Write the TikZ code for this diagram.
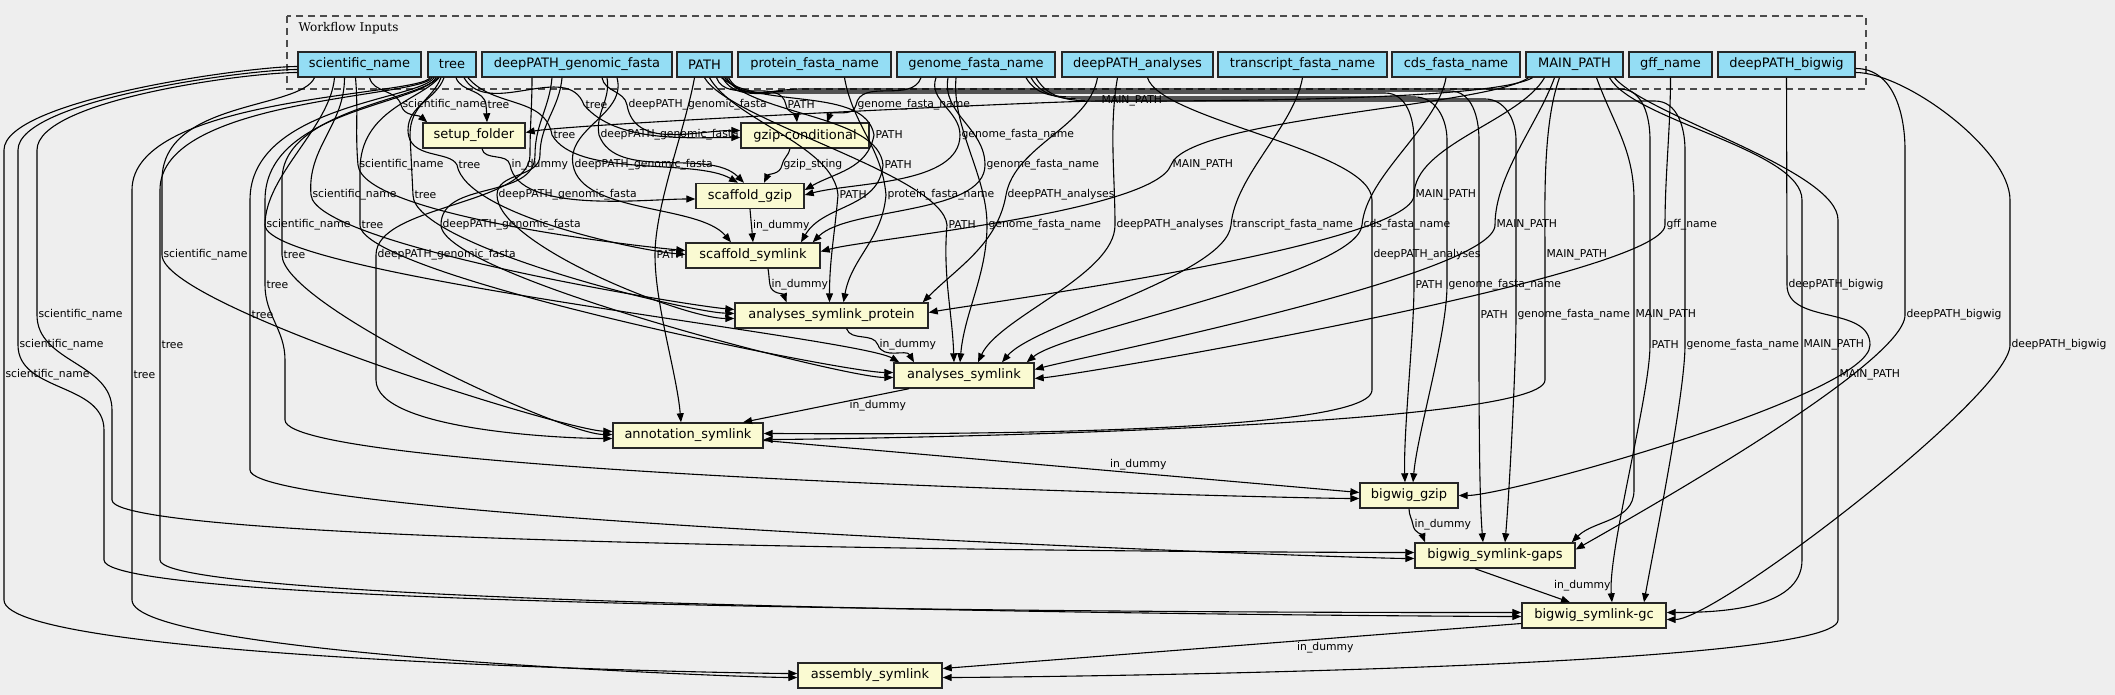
\documentclass[tikz,border=0pt]{standalone}
\usepackage{fontspec}
\setmainfont{DejaVu Sans}
\newfontfamily\wfclusterfont{DejaVu Serif}
\usepackage{xcolor}
\usepackage{tikz}
\usetikzlibrary{arrows.meta,positioning}

\definecolor{wfback}{HTML}{EEEEEE}
\definecolor{wfinput}{HTML}{94DDF4}
\definecolor{wfstep}{HTML}{FAFAD2}
\newcommand{\wfnodefont}{\fontsize{13}{15}\selectfont}
\newcommand{\wflabelfont}{\fontsize{10.8}{12}\selectfont}

\begin{document}
\begin{tikzpicture}[
  x=1pt, y=1pt,
  inbox/.style={draw=black!85, line width=1.4pt, fill=wfinput, minimum height=25pt,
                inner sep=0pt, font=\wfnodefont},
  stepbox/.style={draw=black!85, line width=1.4pt, fill=wfstep, minimum height=25pt,
                  inner sep=0pt, font=\wfnodefont},
  edge/.style={-{Triangle[length=9pt,width=7pt]}, line width=1.1pt, max distance=50pt},
  lbl/.style={font=\wflabelfont, anchor=west, inner sep=1pt},
  cluster/.style={draw=black!70, line width=1.3pt, dash pattern=on 7pt off 5pt}
]
  \useasboundingbox (0,0) rectangle (2115,-695);
  \fill[wfback] (0,0) rectangle (2115,-695);

  % workflow inputs
  \draw[cluster] (287,-16) rectangle (1866,-89);
  \node[font=\wfclusterfont\fontsize{12}{14}\selectfont, anchor=west] (inlabel) at (295,-28) {Workflow Inputs};
  \node[inbox, minimum width=123pt] (sci) at (359.5,-64.5) {scientific\_name};
  \node[inbox, minimum width=48pt] (tree) at (452,-64.5) {tree};
  \node[inbox, minimum width=190pt] (dgf) at (577,-64.5) {deepPATH\_genomic\_fasta};
  \node[inbox, minimum width=55pt] (pth) at (704.5,-64.5) {PATH};
  \node[inbox, minimum width=153pt] (pfn) at (814.5,-64.5) {protein\_fasta\_name};
  \node[inbox, minimum width=158pt] (gfn) at (976,-64.5) {genome\_fasta\_name};
  \node[inbox, minimum width=151pt] (da) at (1137.5,-64.5) {deepPATH\_analyses};
  \node[inbox, minimum width=169pt] (tfn) at (1302.5,-64.5) {transcript\_fasta\_name};
  \node[inbox, minimum width=128pt] (cfn) at (1456,-64.5) {cds\_fasta\_name};
  \node[inbox, minimum width=97pt] (mp) at (1574.5,-64.5) {MAIN\_PATH};
  \node[inbox, minimum width=83pt] (gff) at (1670.5,-64.5) {gff\_name};
  \node[inbox, minimum width=137pt] (dbw) at (1786.5,-64.5) {deepPATH\_bigwig};

  % steps
  \node[stepbox, minimum width=102pt] (setup) at (474,-135.5) {setup\_folder};
  \node[stepbox, minimum width=128pt] (gzc) at (805,-135.5) {gzip-conditional};
  \node[stepbox, minimum width=108pt] (sgz) at (750,-196) {scaffold\_gzip};
  \node[stepbox, minimum width=134pt] (ssl) at (753,-255.5) {scaffold\_symlink};
  \node[stepbox, minimum width=193pt] (asp) at (831.5,-315.5) {analyses\_symlink\_protein};
  \node[stepbox, minimum width=140pt] (asl) at (964,-375.5) {analyses\_symlink};
  \node[stepbox, minimum width=150pt] (ann) at (688,-435.5) {annotation\_symlink};
  \node[stepbox, minimum width=98pt] (bgz) at (1409,-495.5) {bigwig\_gzip};
  \node[stepbox, minimum width=160pt] (gaps) at (1495,-555.5) {bigwig\_symlink-gaps};
  \node[stepbox, minimum width=144pt] (gc) at (1594,-615.5) {bigwig\_symlink-gc};
  \node[stepbox, minimum width=144pt] (asm) at (870,-675.5) {assembly\_symlink};

  % into setup_folder and gzip-conditional
  \draw[edge] ([xshift=10]sci.south) to[out=-75,in=105] (401,-105) node[lbl]{scientific\_name} to[out=-75,in=140] ([xshift=5]setup.north west);
  \draw[edge] ([xshift=4]tree.south) to[out=-70,in=95] (486,-105) node[lbl]{tree} to[out=-85,in=92] ([xshift=13]setup.north);
  \draw[edge] ([xshift=12]tree.south) to[out=-60,in=110] (584,-105) node[lbl]{tree} to[out=-50,in=180] ([yshift=-2]gzc.west);
  \draw[edge] ([xshift=25]dgf.south) to[out=-80,in=100] (627,-105) node[lbl]{deepPATH\_genomic\_fasta} to[out=-80,in=180] ([yshift=5]gzc.west);
  \draw[edge] ([xshift=12]pth.south) to[out=-70,in=100] (786,-105) node[lbl]{PATH} to[out=-80,in=95] ([xshift=-8]gzc.north);
  \draw[edge] ([xshift=-55]gfn.south) to[out=-110,in=80] (856,-105) node[lbl]{genome\_fasta\_name} to[out=-100,in=70] ([xshift=22]gzc.north);
  \draw[edge] ([xshift=-42]mp.south) to[out=-150,in=0] (1100,-101) node[lbl]{MAIN\_PATH} to[out=180,in=10] ([yshift=3]setup.east);

  % into scaffold_gzip
  \draw[edge] ([xshift=16]tree.south) to[out=-50,in=100] (552,-135) node[lbl]{tree} to[out=-60,in=150] ([xshift=-12]sgz.north);
  \draw[edge] ([xshift=30]dgf.south) to[out=-80,in=100] (599,-135) node[lbl]{deepPATH\_genomic\_fasta} to[out=-70,in=135] ([xshift=-6]sgz.north);
  \draw[edge] ([xshift=17]pth.south) to[out=-40,in=100] (874,-135) node[lbl]{PATH} to[out=-100,in=30] ([yshift=6]sgz.east);
  \draw[edge] ([xshift=-40]gfn.south) to[out=-110,in=90] (960,-135) node[lbl]{genome\_fasta\_name} to[out=-90,in=15] ([yshift=1]sgz.east);
  \draw[edge] ([xshift=8]setup.south) to[out=-80,in=100] (510,-165) node[lbl]{in\_dummy} to[out=-80,in=180] ([yshift=-3]sgz.west);
  \draw[edge] ([xshift=-15]gzc.south) to[out=-100,in=80] (782,-165) node[lbl]{gzip\_string} to[out=-100,in=65] ([xshift=14]sgz.north);

  % into scaffold_symlink
  \draw[edge] ([xshift=-4]sci.south) to[out=-85,in=95] (358,-165) node[lbl]{scientific\_name} to[out=-85,in=175] ([yshift=5]ssl.west);
  \draw[edge] ([xshift=-8]tree.south) .. controls (436,-100) and (408,-105) .. (408,-130) .. controls (408,-160) and (450,-150) .. (457,-165) node[lbl]{tree} to[out=-80,in=175] ([yshift=1]ssl.west);
  \draw[edge] ([xshift=40]dgf.south) to[out=-75,in=100] (573,-165) node[lbl]{deepPATH\_genomic\_fasta} to[out=-80,in=130] ([xshift=-22]ssl.north);
  \draw[edge] ([xshift=20]pth.south) to[out=-50,in=95] (883,-165) node[lbl]{PATH} to[out=-95,in=60] ([xshift=48]ssl.north);
  \draw[edge] ([xshift=-28]gfn.south) to[out=-100,in=90] (985,-165) node[lbl]{genome\_fasta\_name} to[out=-90,in=45] ([xshift=-8]ssl.north east);
  \draw[edge] ([xshift=-46]mp.south) to[out=-145,in=70] (1171,-165) node[lbl]{MAIN\_PATH} to[out=-110,in=15] ([yshift=4]ssl.east);
  \draw[edge] (sgz.south) -- node[lbl]{in\_dummy} (ssl.north);

  % into analyses_symlink_protein
  \draw[edge] ([xshift=-15]sci.south) to[out=-90,in=95] (311,-195) node[lbl]{scientific\_name} to[out=-85,in=175] ([yshift=6]asp.west);
  \draw[edge] ([xshift=-11]tree.south) .. controls (432,-100) and (410,-105) .. (410,-135) -- (413,-195) node[lbl]{tree} to[out=-90,in=178] ([yshift=2]asp.west);
  \draw[edge] ([xshift=-15]dgf.south) to[out=-95,in=90] (540,-155) to[out=-90,in=90] (497,-195) node[lbl]{deepPATH\_genomic\_fasta} to[out=-90,in=180] ([yshift=-3]asp.west);
  \draw[edge] ([xshift=5]pth.south) to[out=-60,in=95] (838,-195) node[lbl]{PATH} to[out=-95,in=90] ([xshift=-2]asp.north);
  \draw[edge] ([xshift=30]pfn.south) to[out=-80,in=95] (886,-195) node[lbl]{protein\_fasta\_name} to[out=-95,in=80] ([xshift=12]asp.north);
  \draw[edge] ([xshift=-40]da.south) to[out=-100,in=80] (1006,-195) node[lbl]{deepPATH\_analyses} to[out=-100,in=45] ([xshift=-6]asp.north east);
  \draw[edge] ([xshift=-30]mp.south) to[out=-120,in=90] (1414,-195) node[lbl]{MAIN\_PATH} to[out=-90,in=10] ([yshift=3]asp.east);
  \draw[edge] ([xshift=15]ssl.south) to[out=-80,in=100] (770,-285) node[lbl]{in\_dummy} to[out=-80,in=110] ([xshift=-45]asp.north);

  % into analyses_symlink
  \draw[edge] ([xshift=-25]sci.south) to[out=-95,in=90] (265,-225) node[lbl]{scientific\_name} to[out=-90,in=150] ([xshift=6]asl.north west);
  \draw[edge] ([xshift=-13]tree.south) .. controls (420,-100) and (360,-110) .. (360,-170) -- (360,-225) node[lbl]{tree} to[out=-90,in=180] ([yshift=3]asl.west);
  \draw[edge] ([xshift=-25]dgf.south) to[out=-95,in=90] (535,-155) to[out=-90,in=90] (441,-225) node[lbl]{deepPATH\_genomic\_fasta} to[out=-90,in=180] ([yshift=-2]asl.west);
  \draw[edge] (pth.south) to[out=-60,in=95] (947,-225) node[lbl]{PATH} to[out=-95,in=92] ([xshift=-10]asl.north);
  \draw[edge] ([xshift=-20]gfn.south) to[out=-95,in=90] (987,-225) node[lbl]{genome\_fasta\_name} to[out=-90,in=85] ([xshift=-4]asl.north);
  \draw[edge] ([xshift=-20]da.south) to[out=-100,in=90] (1115,-225) node[lbl]{deepPATH\_analyses} to[out=-90,in=65] ([xshift=14]asl.north);
  \draw[edge] (tfn.south) to[out=-100,in=85] (1231,-225) node[lbl]{transcript\_fasta\_name} to[out=-95,in=50] ([xshift=38]asl.north);
  \draw[edge] ([xshift=-10]cfn.south) to[out=-100,in=85] (1362,-225) node[lbl]{cds\_fasta\_name} to[out=-95,in=40] ([xshift=-8]asl.north east);
  \draw[edge] ([xshift=-20]mp.south) to[out=-110,in=90] (1495,-225) node[lbl]{MAIN\_PATH} to[out=-90,in=15] ([yshift=6]asl.east);
  \draw[edge] (gff.south) to[out=-90,in=90] (1665,-225) node[lbl]{gff\_name} to[out=-90,in=5] ([yshift=-3]asl.east);
  \draw[edge] ([xshift=15]asp.south) to[out=-70,in=110] (878,-345) node[lbl]{in\_dummy} to[out=-70,in=120] ([xshift=-50]asl.north);

  % into annotation_symlink
  \draw[edge] ([xshift=-45]sci.south) .. controls (300,-110) and (162,-100) .. (162,-180) -- (162,-255) node[lbl]{scientific\_name} to[out=-90,in=178] ([yshift=4]ann.west);
  \draw[edge] ([xshift=-14]tree.south) .. controls (420,-100) and (282,-110) .. (282,-180) -- (282,-255) node[lbl]{tree} to[out=-90,in=180] ([yshift=1]ann.west);
  \draw[edge] ([xshift=-45]dgf.south) to[out=-90,in=90] (530,-155) to[out=-90,in=90] (376,-255) node[lbl]{deepPATH\_genomic\_fasta} -- (376,-380) to[out=-90,in=180] ([yshift=-3]ann.west);
  \draw[edge] ([xshift=-10]pth.south) to[out=-100,in=90] (655,-255) node[lbl]{PATH} to[out=-90,in=95] ([xshift=-7]ann.north);
  \draw[edge] ([xshift=10]da.south) .. controls (1160,-120) and (1372,-150) .. (1372,-200) -- (1372,-255) node[lbl]{deepPATH\_analyses} -- (1372,-390) to[out=-90,in=0] ([yshift=2]ann.east);
  \draw[edge] ([xshift=-15]mp.south) to[out=-110,in=90] (1545,-255) node[lbl]{MAIN\_PATH} -- (1545,-380) to[out=-90,in=0] ([yshift=-4]ann.east);
  \draw[edge] ([xshift=-55]asl.south) -- node[lbl,xshift=22]{in\_dummy} ([xshift=55]ann.north);

  % into bigwig_gzip
  \draw[edge] ([xshift=-16]tree.south) .. controls (420,-105) and (265,-110) .. (265,-200) -- (265,-285) node[lbl]{tree} to[out=-90,in=90] (285,-360) -- (285,-420) .. controls (285,-475) and (1300,-498.5) .. ([yshift=-3]bgz.west);
  \draw[edge] ([xshift=18]pth.south) to[out=-60,in=180] (780,-93) -- (1385,-93) to[out=0,in=90] (1414,-140) -- (1414,-285) node[lbl]{PATH} to[out=-90,in=92] ([xshift=-4]bgz.north);
  \draw[edge] ([xshift=50]gfn.south) to[out=-60,in=180] (1080,-97) -- (1415,-97) to[out=0,in=90] (1447,-140) -- (1447,-285) node[lbl]{genome\_fasta\_name} to[out=-90,in=85] ([xshift=4]bgz.north);
  \draw[edge] (dbw.south) -- (1787,-285) node[lbl]{deepPATH\_bigwig} to[out=-90,in=90] (1870,-345) to[out=-90,in=0] (bgz.east);
  \draw[edge] ([yshift=-5]ann.east) -- node[lbl,pos=0.58,anchor=south west,inner sep=0.5pt]{in\_dummy} ([yshift=3]bgz.west);

  % into bigwig_symlink-gaps
  \draw[edge] ([yshift=-8]sci.west) to[out=180,in=90] (37,-150) -- (37,-315) node[lbl]{scientific\_name} to[out=-90,in=90] (112,-410) -- (112,-500) .. controls (112,-550) and (1360,-552.5) .. ([yshift=3]gaps.west);
  \draw[edge] ([xshift=-18]tree.south) .. controls (420,-100) and (250,-105) .. (250,-200) -- (250,-315) node[lbl]{tree} -- (250,-470) .. controls (250,-520) and (1360,-558.5) .. ([yshift=-3]gaps.west);
  \draw[edge] ([xshift=22]pth.south) to[out=-60,in=180] (790,-91) -- (1450,-91) to[out=0,in=90] (1479,-140) -- (1479,-315) node[lbl]{PATH} to[out=-90,in=95] ([xshift=-12]gaps.north);
  \draw[edge] ([xshift=55]gfn.south) to[out=-60,in=180] (1090,-99) -- (1485,-99) to[out=0,in=90] (1516,-140) -- (1516,-315) node[lbl]{genome\_fasta\_name} to[out=-90,in=85] ([xshift=10]gaps.north);
  \draw[edge] ([xshift=22]mp.south) to[out=-70,in=90] (1634,-200) -- (1634,-315) node[lbl]{MAIN\_PATH} -- (1634,-490) to[out=-90,in=45] ([xshift=-4]gaps.north east);
  \draw[edge] ([yshift=-4]dbw.east) to[out=0,in=90] (1905,-150) -- (1905,-315) node[lbl]{deepPATH\_bigwig} to[out=-90,in=30] ([yshift=6]gaps.east);
  \draw[edge] (bgz.south) to[out=-90,in=100] (1413,-525) node[lbl]{in\_dummy} to[out=-80,in=110] ([xshift=-70]gaps.north);

  % into bigwig_symlink-gc
  \draw[edge] ([yshift=-5]sci.west) to[out=180,in=90] (18,-150) -- (18,-345) node[lbl]{scientific\_name} to[out=-90,in=90] (104,-430) -- (104,-560) .. controls (104,-615) and (1470,-612.5) .. ([yshift=3]gc.west);
  \draw[edge] ([xshift=-20]tree.south) .. controls (420,-98) and (160,-98) .. (160,-190) -- (160,-345) node[lbl]{tree} -- (160,-560) .. controls (160,-610) and (1470,-616.5) .. ([yshift=-1]gc.west);
  \draw[edge] ([xshift=24]pth.south) to[out=-60,in=180] (800,-89) -- (1620,-89) to[out=0,in=90] (1650,-140) -- (1650,-345) node[lbl]{PATH} to[out=-90,in=95] ([xshift=18]gc.north);
  \draw[edge] ([xshift=60]gfn.south) to[out=-60,in=180] (1100,-101) -- (1655,-101) to[out=0,in=90] (1685,-150) -- (1685,-345) node[lbl]{genome\_fasta\_name} to[out=-90,in=80] ([xshift=50]gc.north);
  \draw[edge] ([xshift=35]mp.south) to[out=-60,in=90] (1802,-200) -- (1802,-345) node[lbl]{MAIN\_PATH} -- (1802,-560) to[out=-90,in=0] ([yshift=3]gc.east);
  \draw[edge] ([yshift=-8]dbw.east) to[out=0,in=90] (2010,-200) -- (2010,-345) node[lbl]{deepPATH\_bigwig} to[out=-90,in=0] ([yshift=-4]gc.east);
  \draw[edge] ([xshift=-20]gaps.south) -- node[lbl,xshift=30]{in\_dummy} ([xshift=-24]gc.north);

  % into assembly_symlink
  \draw[edge] ([yshift=-2]sci.west) to[out=180,in=90] (4,-150) -- (4,-375) node[lbl]{scientific\_name} -- (4,-600) .. controls (4,-660) and (740,-673.5) .. ([yshift=2]asm.west);
  \draw[edge] ([xshift=-22]tree.south) .. controls (420,-96) and (132,-96) .. (132,-190) -- (132,-375) node[lbl]{tree} -- (132,-600) .. controls (132,-655) and (740,-677.5) .. ([yshift=-2]asm.west);
  \draw[edge] ([xshift=40]mp.south) to[out=-50,in=90] (1838,-220) -- (1838,-375) node[lbl]{MAIN\_PATH} -- (1838,-620) .. controls (1838,-670) and (990,-677.5) .. ([yshift=-2]asm.east);
  \draw[edge] ([yshift=-8]gc.west) -- node[lbl,pos=0.39,anchor=north west]{in\_dummy} ([yshift=7]asm.east);
\end{tikzpicture}
\end{document}
